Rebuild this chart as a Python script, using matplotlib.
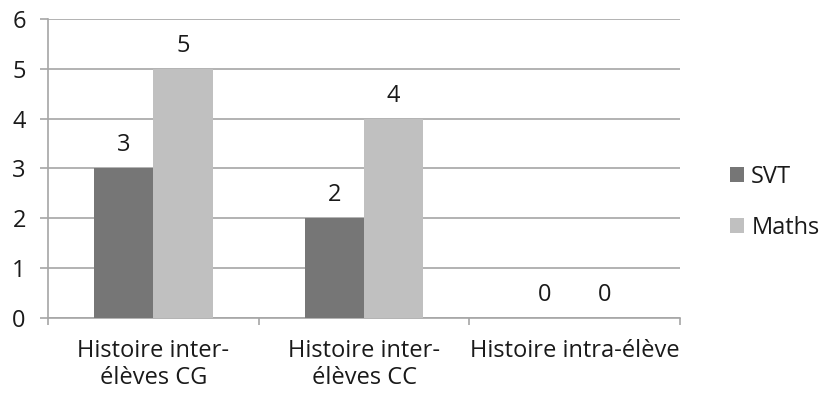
import matplotlib
matplotlib.use("Agg")
import matplotlib.pyplot as plt
import numpy as np

categories = ["Histoire inter-\nélèves CG", "Histoire inter-\nélèves CC", "Histoire intra-élève"]
series_names = ["SVT", "Maths"]
svt = [3, 2, 0]
maths = [5, 4, 0]
yticks = [0, 1, 2, 3, 4, 5, 6]

plt.rcParams['font.family'] = ['Open Sans', 'DejaVu Sans']
FS = 17

fig = plt.figure(figsize=(8.2, 3.95), dpi=100)
ax = fig.add_axes([48/820, 1-318/395, (680-48)/820, (318-19)/395])

x = np.arange(len(categories))
w = 0.282
c_svt = "#767676"
c_maths = "#c0c0c0"
b1 = ax.bar(x - w/2, svt, w, color=c_svt, label=series_names[0], zorder=3)
b2 = ax.bar(x + w/2, maths, w, color=c_maths, label=series_names[1], zorder=3)

for bars in (b1, b2):
    for r in bars:
        h = r.get_height()
        ax.annotate(f"{int(h)}", (r.get_x() + r.get_width()/2, h),
                    xytext=(0, 8), textcoords="offset points",
                    ha="center", va="bottom", fontsize=FS, color="#1a1a1a")

ax.set_xlim(-0.5, 2.5)
ax.set_ylim(0, 6)
ax.set_yticks(yticks)
ax.yaxis.grid(True, color="#a6a6a6", linewidth=1.2, zorder=0)
ax.set_axisbelow(True)

for s in ["top", "right"]:
    ax.spines[s].set_visible(False)
ax.spines["left"].set_color("#a6a6a6")
ax.spines["bottom"].set_color("#a6a6a6")
ax.spines["left"].set_linewidth(1.2)
ax.spines["bottom"].set_linewidth(1.2)

ax.tick_params(axis="y", length=6, width=1.2, color="#a6a6a6", labelsize=FS, labelcolor="#1a1a1a", pad=10)
ax.set_xticks([-0.5, 0.5, 1.5, 2.5])
ax.set_xticklabels([])
ax.tick_params(axis="x", which="major", length=5, width=1.2, color="#a6a6a6")
ax.set_xticks(x, minor=True)
ax.set_xticklabels(categories, minor=True, fontsize=FS, color="#1a1a1a", linespacing=1.15)
ax.tick_params(axis="x", which="minor", length=0, pad=15)

leg = ax.legend(loc="center left", bbox_to_anchor=((730-48)/632, (318-202.5)/299), frameon=False,
                fontsize=FS, handlelength=0.6, handleheight=0.6, labelspacing=1.15,
                handletextpad=0.3, borderpad=0, borderaxespad=0)
for t in leg.get_texts():
    t.set_color("#1a1a1a")

fig.savefig("out.png", dpi=100)
